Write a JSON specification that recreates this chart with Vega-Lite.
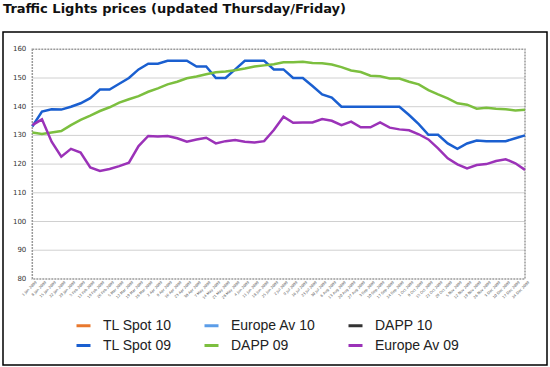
{
  "$schema": "https://vega.github.io/schema/vega-lite/v6.json",
  "width": 544,
  "height": 333,
  "autosize": {"type": "none"},
  "padding": {"left": 3, "top": 32, "right": 3, "bottom": 2},
  "background": "white",
  "title": {
    "text": "Traffic Lights prices (updated Thursday/Friday)",
    "anchor": "start",
    "font": "DejaVu Sans",
    "fontSize": 13,
    "fontWeight": "bold",
    "color": "#111111",
    "offset": 16
  },
  "config": {
    "view": {"stroke": "#000000", "strokeWidth": 1.5},
    "legend": {"padding": 0}
  },
  "datasets": {
    "prices": [
      {"week": 1, "date": "1 Jan 2009", "TL Spot 09": 133.1, "DAPP 09": 131.0, "Europe Av 09": 133.6},
      {"week": 2, "date": "8 Jan 2009", "TL Spot 09": 138.3, "DAPP 09": 130.5, "Europe Av 09": 135.6},
      {"week": 3, "date": "15 Jan 2009", "TL Spot 09": 139.1, "DAPP 09": 131.0, "Europe Av 09": 127.8},
      {"week": 4, "date": "22 Jan 2009", "TL Spot 09": 139.0, "DAPP 09": 131.5, "Europe Av 09": 122.6},
      {"week": 5, "date": "29 Jan 2009", "TL Spot 09": 140.0, "DAPP 09": 133.6, "Europe Av 09": 125.3},
      {"week": 6, "date": "5 Feb 2009", "TL Spot 09": 141.2, "DAPP 09": 135.4, "Europe Av 09": 124.0},
      {"week": 7, "date": "12 Feb 2009", "TL Spot 09": 143.0, "DAPP 09": 136.9, "Europe Av 09": 118.8},
      {"week": 8, "date": "19 Feb 2009", "TL Spot 09": 146.0, "DAPP 09": 138.5, "Europe Av 09": 117.6},
      {"week": 9, "date": "26 Feb 2009", "TL Spot 09": 146.0, "DAPP 09": 139.8, "Europe Av 09": 118.3},
      {"week": 10, "date": "5 Mar 2009", "TL Spot 09": 148.0, "DAPP 09": 141.4, "Europe Av 09": 119.3},
      {"week": 11, "date": "12 Mar 2009", "TL Spot 09": 150.0, "DAPP 09": 142.6, "Europe Av 09": 120.5},
      {"week": 12, "date": "19 Mar 2009", "TL Spot 09": 153.0, "DAPP 09": 143.7, "Europe Av 09": 126.3},
      {"week": 13, "date": "26 Mar 2009", "TL Spot 09": 155.0, "DAPP 09": 145.2, "Europe Av 09": 129.8},
      {"week": 14, "date": "2 Apr 2009", "TL Spot 09": 155.0, "DAPP 09": 146.4, "Europe Av 09": 129.6},
      {"week": 15, "date": "9 Apr 2009", "TL Spot 09": 156.0, "DAPP 09": 147.8, "Europe Av 09": 129.8},
      {"week": 16, "date": "16 Apr 2009", "TL Spot 09": 156.0, "DAPP 09": 148.7, "Europe Av 09": 129.0},
      {"week": 17, "date": "23 Apr 2009", "TL Spot 09": 156.0, "DAPP 09": 149.9, "Europe Av 09": 127.8},
      {"week": 18, "date": "30 Apr 2009", "TL Spot 09": 154.0, "DAPP 09": 150.5, "Europe Av 09": 128.6},
      {"week": 19, "date": "7 May 2009", "TL Spot 09": 154.0, "DAPP 09": 151.3, "Europe Av 09": 129.2},
      {"week": 20, "date": "14 May 2009", "TL Spot 09": 150.0, "DAPP 09": 152.0, "Europe Av 09": 127.2},
      {"week": 21, "date": "21 May 2009", "TL Spot 09": 150.0, "DAPP 09": 152.3, "Europe Av 09": 128.0},
      {"week": 22, "date": "28 May 2009", "TL Spot 09": 153.0, "DAPP 09": 152.7, "Europe Av 09": 128.4},
      {"week": 23, "date": "4 Jun 2009", "TL Spot 09": 156.0, "DAPP 09": 153.3, "Europe Av 09": 127.8},
      {"week": 24, "date": "11 Jun 2009", "TL Spot 09": 156.0, "DAPP 09": 154.0, "Europe Av 09": 127.5},
      {"week": 25, "date": "18 Jun 2009", "TL Spot 09": 156.0, "DAPP 09": 154.4, "Europe Av 09": 128.0},
      {"week": 26, "date": "25 Jun 2009", "TL Spot 09": 153.0, "DAPP 09": 154.8, "Europe Av 09": 131.9},
      {"week": 27, "date": "2 Jul 2009", "TL Spot 09": 153.0, "DAPP 09": 155.5, "Europe Av 09": 136.5},
      {"week": 28, "date": "9 Jul 2009", "TL Spot 09": 150.0, "DAPP 09": 155.5, "Europe Av 09": 134.4},
      {"week": 29, "date": "16 Jul 2009", "TL Spot 09": 150.0, "DAPP 09": 155.7, "Europe Av 09": 134.5},
      {"week": 30, "date": "23 Jul 2009", "TL Spot 09": 147.2, "DAPP 09": 155.2, "Europe Av 09": 134.5},
      {"week": 31, "date": "30 Jul 2009", "TL Spot 09": 144.3, "DAPP 09": 155.1, "Europe Av 09": 135.7},
      {"week": 32, "date": "6 Aug 2009", "TL Spot 09": 143.2, "DAPP 09": 154.7, "Europe Av 09": 135.1},
      {"week": 33, "date": "13 Aug 2009", "TL Spot 09": 140.0, "DAPP 09": 153.8, "Europe Av 09": 133.6},
      {"week": 34, "date": "20 Aug 2009", "TL Spot 09": 140.0, "DAPP 09": 152.6, "Europe Av 09": 134.8},
      {"week": 35, "date": "27 Aug 2009", "TL Spot 09": 140.0, "DAPP 09": 152.1, "Europe Av 09": 132.8},
      {"week": 36, "date": "3 Sep 2009", "TL Spot 09": 140.0, "DAPP 09": 150.8, "Europe Av 09": 132.8},
      {"week": 37, "date": "10 Sep 2009", "TL Spot 09": 140.0, "DAPP 09": 150.6, "Europe Av 09": 134.5},
      {"week": 38, "date": "17 Sep 2009", "TL Spot 09": 140.0, "DAPP 09": 149.8, "Europe Av 09": 132.7},
      {"week": 39, "date": "24 Sep 2009", "TL Spot 09": 140.0, "DAPP 09": 149.8, "Europe Av 09": 132.1},
      {"week": 40, "date": "1 Oct 2009", "TL Spot 09": 137.1, "DAPP 09": 148.7, "Europe Av 09": 131.8},
      {"week": 41, "date": "8 Oct 2009", "TL Spot 09": 133.9, "DAPP 09": 147.8, "Europe Av 09": 130.4},
      {"week": 42, "date": "15 Oct 2009", "TL Spot 09": 130.2, "DAPP 09": 145.8, "Europe Av 09": 128.6},
      {"week": 43, "date": "22 Oct 2009", "TL Spot 09": 130.2, "DAPP 09": 144.3, "Europe Av 09": 125.5},
      {"week": 44, "date": "29 Oct 2009", "TL Spot 09": 127.2, "DAPP 09": 142.9, "Europe Av 09": 122.0},
      {"week": 45, "date": "5 Nov 2009", "TL Spot 09": 125.3, "DAPP 09": 141.2, "Europe Av 09": 119.9},
      {"week": 46, "date": "12 Nov 2009", "TL Spot 09": 127.2, "DAPP 09": 140.7, "Europe Av 09": 118.5},
      {"week": 47, "date": "19 Nov 2009", "TL Spot 09": 128.2, "DAPP 09": 139.3, "Europe Av 09": 119.7},
      {"week": 48, "date": "26 Nov 2009", "TL Spot 09": 128.0, "DAPP 09": 139.6, "Europe Av 09": 120.0},
      {"week": 49, "date": "3 Dec 2009", "TL Spot 09": 128.0, "DAPP 09": 139.3, "Europe Av 09": 121.1},
      {"week": 50, "date": "10 Dec 2009", "TL Spot 09": 128.0, "DAPP 09": 139.1, "Europe Av 09": 121.7},
      {"week": 51, "date": "17 Dec 2009", "TL Spot 09": 129.0, "DAPP 09": 138.7, "Europe Av 09": 120.3},
      {"week": 52, "date": "24 Dec 2009", "TL Spot 09": 130.0, "DAPP 09": 138.9, "Europe Av 09": 118.0}
    ],
    "gridlines": [{"v": 90}, {"v": 100}, {"v": 110}, {"v": 120}, {"v": 130}, {"v": 140}, {"v": 150}],
    "yticks": [{"v": 80}, {"v": 90}, {"v": 100}, {"v": 110}, {"v": 120}, {"v": 130}, {"v": 140}, {"v": 150}, {"v": 160}]
  },
  "layer": [
    {
      "data": {"name": "gridlines"},
      "mark": {"type": "rule", "color": "#d0d0d0", "strokeWidth": 1},
      "encoding": {
        "x": {"datum": 1, "type": "quantitative", "scale": {"domain": [-2.033, 54.276], "nice": false, "zero": false}, "axis": null},
        "x2": {"datum": 52},
        "y": {"field": "v", "type": "quantitative", "scale": {"domain": [50, 166.03], "nice": false, "zero": false}, "axis": null}
      }
    },
    {
      "data": {"values": [{}]},
      "mark": {"type": "rect", "fill": null, "fillOpacity": 0, "stroke": "#9a9a9a", "strokeWidth": 1.5, "strokeDash": [2, 1]},
      "encoding": {
        "x": {"datum": 1, "type": "quantitative", "scale": {"domain": [-2.033, 54.276], "nice": false, "zero": false}, "axis": null},
        "x2": {"datum": 52},
        "y": {"datum": 80, "type": "quantitative", "scale": {"domain": [50, 166.03], "nice": false, "zero": false}, "axis": null},
        "y2": {"datum": 160}
      }
    },
    {
      "data": {"name": "yticks"},
      "mark": {"type": "text", "align": "right", "baseline": "middle", "xOffset": -6, "font": "DejaVu Sans", "fontSize": 7, "color": "#333333"},
      "encoding": {
        "x": {"datum": 1, "type": "quantitative", "scale": {"domain": [-2.033, 54.276], "nice": false, "zero": false}, "axis": null},
        "y": {"field": "v", "type": "quantitative", "scale": {"domain": [50, 166.03], "nice": false, "zero": false}, "axis": null},
        "text": {"field": "v", "type": "quantitative"}
      }
    },
    {
      "data": {"name": "prices"},
      "mark": {"type": "text", "align": "right", "baseline": "middle", "angle": 315, "xOffset": 4, "yOffset": 3, "font": "DejaVu Sans", "fontSize": 3.6, "color": "#555555"},
      "encoding": {
        "x": {"field": "week", "type": "quantitative", "scale": {"domain": [-2.033, 54.276], "nice": false, "zero": false}, "axis": null},
        "y": {"datum": 80, "type": "quantitative", "scale": {"domain": [50, 166.03], "nice": false, "zero": false}, "axis": null},
        "text": {"field": "date", "type": "nominal"}
      }
    },
    {
      "data": {"name": "prices"},
      "transform": [{"fold": ["TL Spot 09", "DAPP 09", "Europe Av 09"], "as": ["series", "value"]}],
      "mark": {"type": "line", "strokeWidth": 2.5},
      "encoding": {
        "x": {"field": "week", "type": "quantitative", "scale": {"domain": [-2.033, 54.276], "nice": false, "zero": false}, "axis": null},
        "y": {"field": "value", "type": "quantitative", "scale": {"domain": [50, 166.03], "nice": false, "zero": false}, "axis": null},
        "color": {
          "field": "series",
          "type": "nominal",
          "scale": {
            "domain": ["TL Spot 10", "Europe Av 10", "DAPP 10", "TL Spot 09", "DAPP 09", "Europe Av 09"],
            "range": ["#e8782e", "#5b9de8", "#333333", "#1a5fd0", "#7cbf3f", "#9b32b8"]
          },
          "legend": {
            "orient": "none",
            "direction": "horizontal",
            "legendX": 72,
            "legendY": 285,
            "columns": 3,
            "title": null,
            "symbolType": "stroke",
            "symbolSize": 196,
            "symbolStrokeWidth": 3,
            "labelFont": "Liberation Sans",
            "labelFontSize": 14,
            "labelColor": "#222222",
            "labelOffset": 11,
            "labelLimit": 0,
            "columnPadding": 26,
            "rowPadding": 4
          }
        }
      }
    }
  ]
}
